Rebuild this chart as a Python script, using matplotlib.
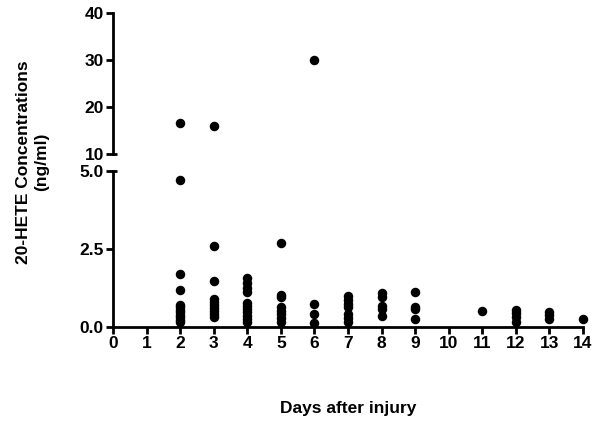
import matplotlib
matplotlib.use("Agg")
import matplotlib.pyplot as plt
import numpy as np

plt.rcParams["font.family"] = ["Liberation Sans", "DejaVu Sans"]
plt.rcParams["font.weight"] = "bold"

# 20-HETE concentrations (ng/ml) per day after injury
day2 = [16.7, 4.70, 1.69, 1.18, 0.70, 0.62, 0.54, 0.46, 0.38, 0.30, 0.22, 0.14]
day3 = [16.0, 2.60, 1.47, 0.90, 0.80, 0.70, 0.60, 0.50, 0.40, 0.30]
day4 = [1.55, 1.40, 1.25, 1.10, 0.77, 0.66, 0.56, 0.46, 0.36, 0.26, 0.16]
day5 = [2.67, 1.02, 0.95, 0.64, 0.52, 0.40, 0.28, 0.16]
day6 = [30.0, 0.73, 0.42, 0.12]
day7 = [0.98, 0.86, 0.73, 0.62, 0.41, 0.27, 0.16]
day8 = [1.07, 0.94, 0.67, 0.57, 0.34]
day9 = [1.10, 0.64, 0.58, 0.24]
day11 = [0.50]
day12 = [0.53, 0.43, 0.32, 0.14]
day13 = [0.46, 0.37, 0.26]
day14 = [0.26]

days = [2, 3, 4, 5, 6, 7, 8, 9, 11, 12, 13, 14]
values = [day2, day3, day4, day5, day6, day7, day8, day9, day11, day12, day13, day14]

x_all = np.concatenate([[d] * len(v) for d, v in zip(days, values)])
y_all = np.concatenate(values)

SPINE_W = 2.0
FS = 12.5

fig = plt.figure(figsize=(6.01, 4.26), dpi=100)
ax_top = fig.add_axes([0.188, 0.6385, 0.782, 0.330])
ax_bot = fig.add_axes([0.188, 0.233, 0.782, 0.366])

for ax, lo, hi in [(ax_top, 10, 40), (ax_bot, 0, 5)]:
    sel = (y_all >= lo) & (y_all <= hi)
    ax.scatter(x_all[sel], y_all[sel], s=34, color="black", zorder=3, clip_on=False)
    ax.set_xlim(0, 14)
    ax.set_ylim(lo, hi)
    for side in ["top", "right"]:
        ax.spines[side].set_visible(False)
    ax.spines["left"].set_linewidth(SPINE_W)
    ax.spines["bottom"].set_linewidth(SPINE_W)
    ax.tick_params(width=SPINE_W, length=5, labelsize=FS, pad=1.5)

ax_top.spines["bottom"].set_visible(False)
ax_top.set_xticks([])
ax_top.set_yticks([10, 20, 30, 40])

ax_bot.set_yticks([0.0, 2.5, 5.0])
ax_bot.set_yticklabels(["0.0", "2.5", "5.0"])
ax_bot.set_xticks(range(0, 15))

# break caps on the y axis
ax_top.plot([0, 0.008], [0, 0], transform=ax_top.transAxes, color="black",
            lw=SPINE_W, clip_on=False, solid_capstyle="butt")
ax_bot.plot([0, 0.008], [1, 1], transform=ax_bot.transAxes, color="black",
            lw=SPINE_W, clip_on=False, solid_capstyle="butt")

fig.text(0.054, 0.62, "20-HETE Concentrations\n(ng/ml)", rotation=90,
         ha="center", va="center", fontsize=FS, fontweight="bold",
         multialignment="center", linespacing=1.25)
fig.text(0.58, 0.042, "Days after injury", ha="center", va="center",
         fontsize=FS, fontweight="bold")

fig.savefig("out.png", dpi=100)
